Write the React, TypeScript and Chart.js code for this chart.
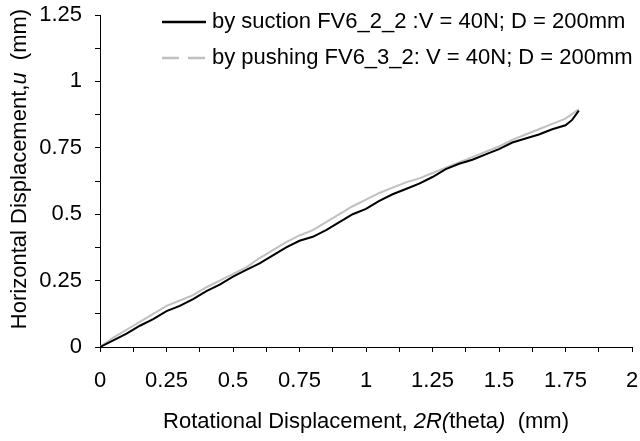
import React, { useEffect, useRef } from "react";
import { Chart, registerables } from "chart.js";

Chart.register(...registerables);

// ---- Data ----
const suctionX = [0, 0.05, 0.1, 0.15, 0.2, 0.25, 0.3, 0.35, 0.4, 0.45, 0.5, 0.55, 0.6, 0.65, 0.7, 0.75, 0.8, 0.85, 0.9, 0.95, 1.0, 1.05, 1.1, 1.15, 1.2, 1.25, 1.3, 1.35, 1.4, 1.45, 1.5, 1.55, 1.6, 1.65, 1.7, 1.75, 1.775, 1.8];
const suctionY = [0, 0.025, 0.05, 0.08, 0.105, 0.135, 0.155, 0.18, 0.21, 0.235, 0.265, 0.29, 0.315, 0.345, 0.375, 0.4, 0.415, 0.44, 0.47, 0.5, 0.52, 0.55, 0.575, 0.595, 0.615, 0.64, 0.67, 0.69, 0.705, 0.725, 0.745, 0.77, 0.785, 0.8, 0.82, 0.835, 0.855, 0.89];

const pushingX = [0, 0.05, 0.1, 0.15, 0.2, 0.25, 0.3, 0.35, 0.4, 0.45, 0.5, 0.55, 0.6, 0.65, 0.7, 0.75, 0.8, 0.85, 0.9, 0.95, 1.0, 1.05, 1.1, 1.15, 1.2, 1.25, 1.3, 1.35, 1.4, 1.45, 1.5, 1.55, 1.6, 1.65, 1.7, 1.75, 1.8];
const pushingY = [0, 0.035, 0.065, 0.095, 0.125, 0.155, 0.175, 0.195, 0.225, 0.25, 0.275, 0.3, 0.335, 0.365, 0.395, 0.42, 0.44, 0.47, 0.5, 0.53, 0.555, 0.58, 0.6, 0.62, 0.635, 0.655, 0.675, 0.695, 0.715, 0.735, 0.755, 0.78, 0.8, 0.82, 0.84, 0.86, 0.895];

const seriesLabels = [
  "by suction FV6_2_2 :V = 40N; D = 200mm",
  "by pushing FV6_3_2: V = 40N; D = 200mm",
];

const xMin = 0;
const xMax = 2;
const yMin = 0;
const yMax = 1.25;
const majorStep = 0.25;
const minorStep = 0.125;

const FONT = "'Liberation Sans', Arial, sans-serif";
const TEXT_SIZE = 22;

function fmt(v: number): string {
  return String(Math.round(v * 100) / 100);
}

function isMajor(v: number): boolean {
  const r = v / majorStep;
  return Math.abs(r - Math.round(r)) < 1e-6;
}

type Seg = { t: string; i: boolean };

function drawSegs(ctx: CanvasRenderingContext2D, segs: Seg[], size: number) {
  let total = 0;
  const widths: number[] = [];
  for (const s of segs) {
    ctx.font = `${s.i ? "italic " : ""}${size}px ${FONT}`;
    const w = ctx.measureText(s.t).width;
    widths.push(w);
    total += w;
  }
  let x = -total / 2;
  segs.forEach((s, k) => {
    ctx.font = `${s.i ? "italic " : ""}${size}px ${FONT}`;
    ctx.fillText(s.t, x, 0);
    x += widths[k];
  });
}

const decorPlugin = {
  id: "decor",
  afterDraw(chart: any) {
    const ctx: any = chart.ctx;
    const area = chart.chartArea;
    ctx.save();
    ctx.fillStyle = "#000";
    ctx.textBaseline = "middle";
    ctx.textAlign = "left";

    // x title
    ctx.save();
    ctx.translate((area.left + area.right) / 2, 422);
    drawSegs(
      ctx,
      [
        { t: "Rotational Displacement, ", i: false },
        { t: "2R(", i: true },
        { t: "theta", i: false },
        { t: ")", i: true },
        { t: "  (mm)", i: false },
      ],
      TEXT_SIZE
    );
    ctx.restore();

    // y title
    ctx.save();
    ctx.translate(20, 169);
    ctx.rotate(-Math.PI / 2);
    drawSegs(
      ctx,
      [
        { t: "Horizontal Displacement,", i: false },
        { t: "u", i: true },
        { t: "  (mm)", i: false },
      ],
      TEXT_SIZE
    );
    ctx.restore();

    // legend
    const items = [
      { label: seriesLabels[0], color: "#000000", dash: [] as number[], y: 22 },
      { label: seriesLabels[1], color: "#c0c0c0", dash: [17, 9] as number[], y: 58 },
    ];
    items.forEach((it) => {
      ctx.beginPath();
      ctx.strokeStyle = it.color;
      ctx.lineWidth = 2.5;
      ctx.setLineDash(it.dash);
      ctx.moveTo(162, it.y);
      ctx.lineTo(206, it.y);
      ctx.stroke();
      ctx.setLineDash([]);
      ctx.font = `${TEXT_SIZE}px ${FONT}`;
      ctx.fillText(it.label, 212, it.y);
    });
    ctx.restore();
  },
};

export default function App() {
  const ref = useRef<HTMLCanvasElement | null>(null);

  useEffect(() => {
    if (!ref.current) return;
    const chart = new Chart(ref.current, {
      type: "line",
      data: {
        datasets: [
          {
            label: seriesLabels[0],
            data: suctionX.map((x, i) => ({ x, y: suctionY[i] })),
            borderColor: "#000000",
            borderWidth: 2,
            pointRadius: 0,
            tension: 0,
          },
          {
            label: seriesLabels[1],
            data: pushingX.map((x, i) => ({ x, y: pushingY[i] })),
            borderColor: "#c0c0c0",
            borderWidth: 2,
            pointRadius: 0,
            tension: 0,
          },
        ],
      },
      options: {
        animation: false,
        responsive: true,
        maintainAspectRatio: false,
        layout: { padding: { top: 15, right: 8, left: 0, bottom: 0 } },
        plugins: {
          legend: { display: false },
          tooltip: { enabled: false },
          title: { display: false },
        },
        scales: {
          x: {
            type: "linear",
            min: xMin,
            max: xMax,
            afterFit: (s: any) => {
              s.height = 94;
              s.paddingLeft = 0;
              s.paddingRight = 0;
            },
            ticks: {
              stepSize: minorStep,
              autoSkip: false,
              maxRotation: 0,
              padding: 16,
              color: "#000",
              font: { family: FONT, size: TEXT_SIZE },
              callback: (v: any) => (isMajor(Number(v)) ? fmt(Number(v)) : ""),
            },
            grid: {
              drawOnChartArea: false,
              drawTicks: true,
              tickLength: 5,
              color: "#000",
            },
            border: { display: true, color: "#000", width: 1 },
          },
          y: {
            type: "linear",
            min: yMin,
            max: yMax,
            afterFit: (s: any) => {
              s.width = 100;
              s.paddingTop = 0;
              s.paddingBottom = 0;
            },
            ticks: {
              stepSize: minorStep,
              autoSkip: false,
              padding: 13,
              color: "#000",
              font: { family: FONT, size: TEXT_SIZE },
              callback: (v: any) => (isMajor(Number(v)) ? fmt(Number(v)) : ""),
            },
            grid: {
              drawOnChartArea: false,
              drawTicks: true,
              tickLength: 5,
              color: "#000",
            },
            border: { display: true, color: "#000", width: 1 },
          },
        },
      },
      plugins: [decorPlugin],
    });
    return () => chart.destroy();
  }, []);

  return (
    <div style={{ position: "absolute", left: 0, top: 0, width: 640, height: 441, background: "#fff" }}>
      <canvas ref={ref} />
    </div>
  );
}
